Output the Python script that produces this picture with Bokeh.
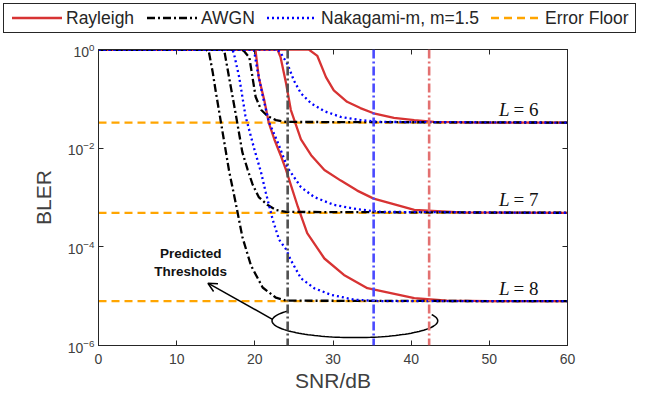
import numpy as np
from bokeh.plotting import figure
from bokeh.layouts import column
from bokeh.models import (Range1d, LinearAxis, LogAxis, FixedTicker, LogTickFormatter,
                          Span, Arrow, OpenHead, Label, Div)
from bokeh.embed import file_html
from bokeh.resources import INLINE

# ---------------- data ----------------
snr_ray8 = [0, 19.9, 20.1, 20.5, 21.2, 21.8, 22.5, 23.3, 24.0, 25.5, 26.7, 28.9, 31.4, 34.4, 37.4, 40.4, 44.6, 50, 60]
bler_ray8 = [1, 1, 0.93, 0.275, 9.5e-2, 3.2e-2, 1.5e-2, 7.2e-3, 3.6e-3, 6.5e-4, 1.9e-4, 5.8e-5, 2.7e-5, 1.45e-5, 1.15e-5, 9.1e-6, 8.1e-6, 7.9e-6, 7.9e-6]
snr_ray7 = [0, 22.9, 23.3, 24.0, 24.6, 25.9, 27.2, 28.9, 31.0, 33.1, 35.2, 37.4, 40.4, 46.3, 60]
bler_ray7 = [1, 1, 0.69, 0.204, 6.0e-2, 1.5e-2, 7.2e-3, 3.6e-3, 2.2e-3, 1.38e-3, 9.5e-4, 7.6e-4, 5.6e-4, 5.0e-4, 4.9e-4]
snr_ray6 = [0, 26.9, 28.0, 29.1, 30.1, 31.8, 33.5, 35.2, 37.8, 40.4, 42.9, 48.9, 60]
bler_ray6 = [1, 1, 0.74, 0.275, 0.148, 0.087, 0.065, 0.051, 0.041, 0.037, 0.034, 0.033, 0.033]

snr_awgn8 = [0, 13.6, 14.1, 14.6, 15.0, 15.9, 16.7, 17.6, 18.4, 19.5, 21.0, 22.7, 24.0, 60]
bler_awgn8 = [1, 1, 0.93, 0.355, 0.141, 2.0e-2, 3.5e-3, 7.1e-4, 1.6e-4, 4.2e-5, 1.5e-5, 9.3e-6, 8.1e-6, 7.9e-6]
snr_awgn7 = [0, 15.7, 16.1, 16.7, 17.6, 18.4, 19.1, 19.7, 20.5, 21.6, 22.7, 24.0, 60]
bler_awgn7 = [1, 1, 0.93, 0.275, 4.5e-2, 8.3e-3, 3.6e-3, 1.86e-3, 1.02e-3, 7.1e-4, 5.6e-4, 5.1e-4, 4.9e-4]
snr_awgn6 = [0, 18.3, 18.6, 19.3, 19.7, 20.1, 20.8, 21.6, 22.7, 24.0, 60]
bler_awgn6 = [1, 1, 0.93, 0.69, 0.275, 0.11, 0.060, 0.045, 0.037, 0.034, 0.033]

snr_nak8 = [0, 17.1, 17.3, 18.0, 18.8, 19.9, 20.8, 21.4, 22.3, 23.1, 24.0, 24.6, 25.9, 27.6, 29.7, 32.7, 36.1, 60]
bler_nak8 = [1, 1, 0.86, 0.275, 4.5e-2, 1.0e-2, 3.2e-3, 1.26e-3, 3.5e-4, 1.4e-4, 8.9e-5, 5.4e-5, 2.3e-5, 1.45e-5, 1.07e-5, 8.5e-6, 7.9e-6, 7.9e-6]
snr_nak7 = [0, 19.7, 19.9, 20.3, 21.0, 21.8, 22.9, 24.2, 25.9, 27.6, 30.1, 33.1, 36.1, 60]
bler_nak7 = [1, 1, 0.95, 0.40, 0.115, 3.4e-2, 1.35e-2, 4.0e-3, 1.62e-3, 1.02e-3, 7.1e-4, 5.8e-4, 5.1e-4, 4.9e-4]
snr_nak6 = [0, 22.9, 23.3, 24.2, 25.0, 25.9, 27.2, 28.9, 31.0, 33.5, 36.1, 60]
bler_nak6 = [1, 1, 0.86, 0.50, 0.234, 0.129, 0.081, 0.056, 0.043, 0.037, 0.034, 0.033]

floor_L = [6, 7, 8]
floor_bler = [3.3e-2, 4.9e-4, 7.9e-6]
threshold_snr = [24.2, 35.2, 42.3]

series_names = ["Rayleigh", "AWGN", "Nakagami-m, m=1.5", "Error Floor"]
x_ticks = [0, 10, 20, 30, 40, 50, 60]
y_ticks = [1e-6, 1e-4, 1e-2, 1]

# ---------------- styles ----------------
RED = "#d73333"
BLUE = "#0000ff"
BLACK = "#000000"
ORANGE = "#ffa500"
AXC = "#262626"
TXT = "#404040"
FONT = "Liberation Sans"
LW = 2.3
STY = {
    "Rayleigh": dict(line_color=RED, line_width=LW),
    "AWGN": dict(line_color=BLACK, line_width=LW, line_dash="8 3 2 3"),
    "Nakagami-m, m=1.5": dict(line_color=BLUE, line_width=LW, line_dash="2 3"),
    "Error Floor": dict(line_color=ORANGE, line_width=LW, line_dash="8 5"),
}

# ---------------- legend strip (boxed, above the axes, wider than them) ----------------
leg_h = 36
leg_glyph_x = [12, 147, 267, 491]
leg_glyph_w = 50
parts = ['<svg xmlns="http://www.w3.org/2000/svg" width="638" height="%d">' % leg_h,
         '<rect x="3.5" y="3.5" width="632" height="29" fill="white" stroke="%s" stroke-width="1"/>' % AXC]
for name, gx in zip(series_names, leg_glyph_x):
    s = STY[name]
    dash = s.get("line_dash", "")
    dash_attr = ' stroke-dasharray="%s"' % dash if dash else ""
    parts.append('<line x1="%d" y1="18" x2="%d" y2="18" stroke="%s" stroke-width="%s"%s/>'
                 % (gx, gx + leg_glyph_w, s["line_color"], s["line_width"], dash_attr))
    parts.append('<text x="%d" y="18" dominant-baseline="central" font-family="%s" '
                 'font-size="17.5px" fill="%s">%s</text>' % (gx + leg_glyph_w + 4, FONT, AXC, name))
parts.append('</svg>')
legend_div = Div(text="".join(parts), width=638, height=leg_h, margin=(0, 0, 0, 0))

# ---------------- main plot ----------------
p = figure(width=638, height=394 - leg_h, y_axis_type="log",
           x_range=Range1d(0, 60), y_range=Range1d(1e-6, 1),
           output_backend="svg", toolbar_location=None,
           min_border_left=98, min_border_right=71, min_border_top=49 - leg_h,
           min_border_bottom=45)
p.grid.visible = False
p.outline_line_color = AXC
p.background_fill_color = "white"
p.border_fill_color = "white"

bottom = p.below[0]
left = p.left[0]

for fb in floor_bler:
    p.line([0, 60], [fb, fb], **STY["Error Floor"])
for xs, ys in [(snr_ray8, bler_ray8), (snr_ray7, bler_ray7), (snr_ray6, bler_ray6)]:
    p.line(xs, ys, **STY["Rayleigh"])
for xs, ys in [(snr_awgn8, bler_awgn8), (snr_awgn7, bler_awgn7), (snr_awgn6, bler_awgn6)]:
    p.line(xs, ys, **STY["AWGN"])
for xs, ys in [(snr_nak8, bler_nak8), (snr_nak7, bler_nak7), (snr_nak6, bler_nak6)]:
    p.line(xs, ys, **STY["Nakagami-m, m=1.5"])

# threshold verticals
for xv, col in zip(threshold_snr, ["#505050", "#4a4aff", "#e37070"]):
    p.add_layout(Span(location=xv, dimension="height", line_color=col,
                      line_width=2.6, line_dash="9 3 2 3"))

# L labels
for L, fb in zip(floor_L, floor_bler):
    ylab = fb * 1.85
    p.add_layout(Label(x=52.6, y=ylab, text="L", text_font="Liberation Serif",
                       text_font_style="italic", text_font_size="19px",
                       text_align="right", text_baseline="middle", text_color="#111111"))
    p.add_layout(Label(x=53.1, y=ylab, text="= %d" % L, text_font="Liberation Serif",
                       text_font_size="19px", text_align="left", text_baseline="middle",
                       text_color="#111111"))

# annotation: predicted thresholds
p.add_layout(Label(x=11.8, y=7.2e-5, text="Predicted", text_font=FONT, text_font_style="bold",
                   text_font_size="13.5px", text_align="center", text_baseline="middle",
                   text_color="#111111"))
p.add_layout(Label(x=11.8, y=3.1e-5, text="Thresholds", text_font=FONT, text_font_style="bold",
                   text_font_size="13.5px", text_align="center", text_baseline="middle",
                   text_color="#111111"))
p.add_layout(Arrow(end=OpenHead(size=9, line_width=1.5, line_color="black"),
                   x_start=22.25, y_start=3.4e-6, x_end=14.0, y_end=1.83e-5,
                   line_width=1.5, line_color="black"))
ell_cx, ell_cyl, ell_a, ell_b = 32.8, -5.5, 10.6, 0.34
t = np.radians(np.linspace(215, -22, 90))
p.line(ell_cx + ell_a * np.cos(t), 10 ** (ell_cyl - ell_b * np.sin(t)),
       line_color="black", line_width=1.5)

# axes
xt = FixedTicker(ticks=x_ticks)
yt = FixedTicker(ticks=y_ticks)
bottom.ticker = xt
left.ticker = yt
left.formatter = LogTickFormatter()
bottom.axis_label = "SNR/dB"
left.axis_label = "BLER"

top = LinearAxis(ticker=xt, major_label_text_font_size="1px", major_label_text_alpha=0,
                 major_label_standoff=0)
right = LogAxis(ticker=yt, major_label_text_font_size="1px", major_label_text_alpha=0,
                major_label_standoff=0)
p.add_layout(top, "above")
p.add_layout(right, "right")

for ax in [bottom, left, top, right]:
    ax.major_tick_in = 5
    ax.major_tick_out = 0
    ax.minor_tick_line_color = None
    ax.axis_line_color = AXC
    ax.major_tick_line_color = AXC
    ax.axis_line_width = 1
for ax in [bottom, left]:
    ax.major_label_text_font = FONT
    ax.major_label_text_font_size = "14px"
    ax.major_label_text_color = TXT
    ax.axis_label_text_font = FONT
    ax.axis_label_text_font_size = "21px"
    ax.axis_label_text_font_style = "normal"
    ax.axis_label_text_color = TXT
bottom.major_label_standoff = 8
bottom.axis_label_standoff = 2
left.major_label_standoff = 4
left.axis_label_standoff = 10

layout = column(legend_div, p, spacing=0)
open("out.html", "w").write(file_html(layout, INLINE))
